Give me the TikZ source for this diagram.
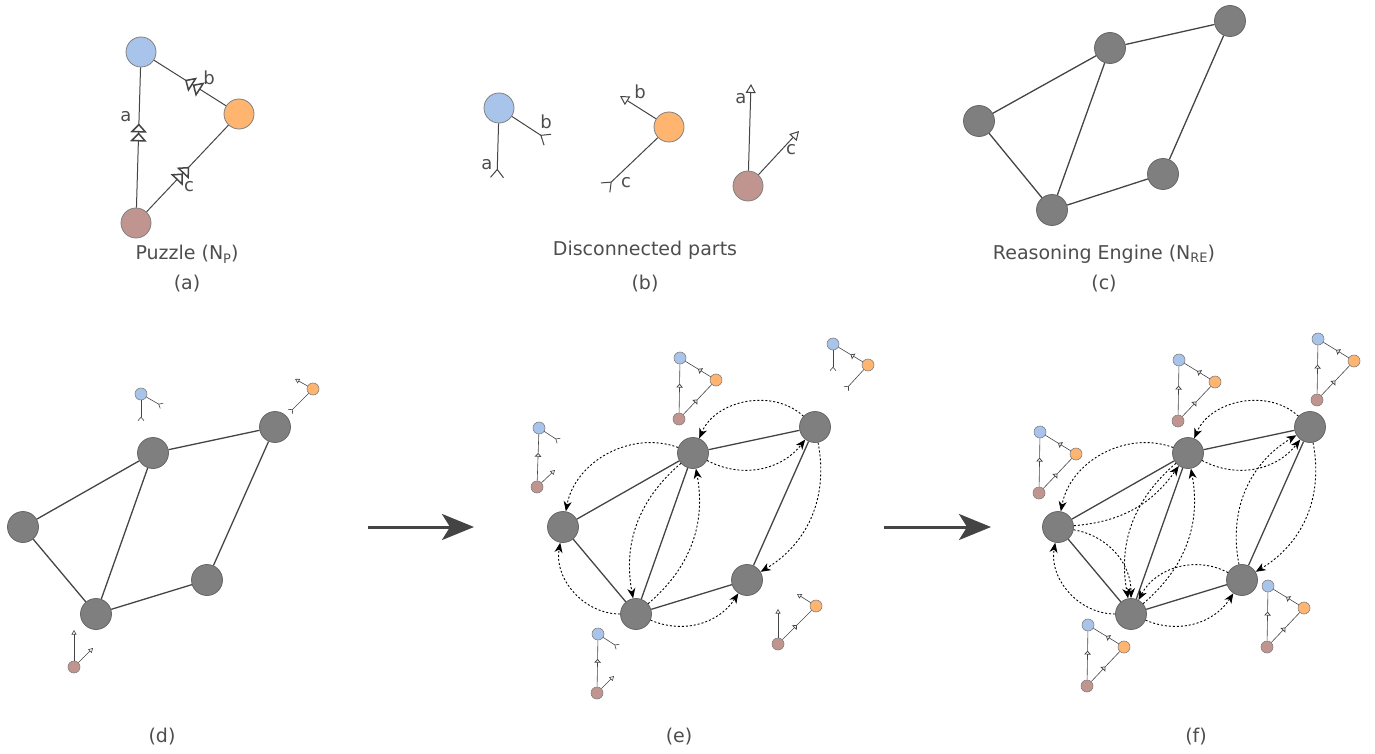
\documentclass[tikz,border=0pt]{standalone}
\usepackage{fontspec}
\setmainfont{DejaVu Sans}
\usetikzlibrary{arrows.meta,decorations.markings}

\definecolor{pblue}{HTML}{A9C4EB}
\definecolor{porange}{HTML}{FFB570}
\definecolor{pbrown}{HTML}{C0958F}
\definecolor{ngray}{HTML}{7F7F7F}
\definecolor{nborder}{HTML}{666666}
\definecolor{ink}{HTML}{444444}
\definecolor{txt}{HTML}{4D4D4D}

\newcommand\lowsub[1]{\raisebox{-0.35ex}{\fontsize{13}{13}\selectfont #1}}

\tikzset{
  x=1pt,y=1pt,
  dtri/.tip={Triangle[open,fill=white,length=6pt,width=11pt] Triangle[open,fill=white,length=6pt,width=11pt]},
  sdtri/.tip={Triangle[open,fill=white,length=3.2pt,width=5.5pt]},
  fork/.tip={Straight Barb[reversed,length=8pt,width=13pt]},
  sfork/.tip={Straight Barb[reversed,length=3.5pt,width=6pt]},
  otri/.tip={Triangle[open,fill=white,length=9pt,width=10pt]},
  sotri/.tip={Triangle[open,fill=white,length=4.5pt,width=5pt]},
  bignode/.style={circle,draw=nborder,fill=ngray,line width=0.8pt,minimum size=31pt,inner sep=0pt},
  bigp/.style={circle,draw=black!50,fill=#1,line width=0.8pt,minimum size=30pt,inner sep=0pt},
  smallp/.style={circle,draw=black!50,fill=#1,line width=0.6pt,minimum size=12pt,inner sep=0pt},
  reline/.style={draw=ink,line width=1.3pt},
  pline/.style={draw=ink,line width=1pt},
  spline/.style={draw=ink,line width=0.6pt},
  pedge/.style={pline,postaction={decorate,decoration={markings,mark=at position #1 with {\arrow[scale=1.5]{dtri}}}}},
  pedge/.default=0.5,
  spedge/.style={spline,postaction={decorate,decoration={markings,mark=at position #1 with {\arrow[scale=1.2]{sdtri}}}}},
  spedge/.default=0.5,
  dotarr/.style={draw=black,line width=0.9pt,dash pattern=on 2pt off 2pt,-{Stealth[length=10pt,width=8pt,inset=3pt]}},
  bigarrow/.style={draw=ink,line width=3pt,-{Stealth[length=32pt,width=26pt,inset=8pt]}},
  captxt/.style={font=\fontsize{19}{23}\selectfont,text=txt,inner sep=0pt},
  labtxt/.style={font=\fontsize{18}{20}\selectfont,text=txt,inner sep=0pt},
}

% reasoning-engine graph (relative to panel d)
\newcommand\regraph[1]{%
  \node[bignode] (#1A) at (153,-453) {};
  \node[bignode] (#1B) at (275,-427) {};
  \node[bignode] (#1C) at (23,-527) {};
  \node[bignode] (#1D) at (207,-580) {};
  \node[bignode] (#1E) at (96,-614) {};
  \draw[reline] (#1A) -- (#1B);
  \draw[reline] (#1A) -- (#1C);
  \draw[reline] (#1A) -- (#1E);
  \draw[reline] (#1C) -- (#1E);
  \draw[reline] (#1E) -- (#1D);
  \draw[reline] (#1D) -- (#1B);
}

% small full puzzle, blue circle at (#2,#3)
\newcommand\fullpz[3]{%
  \node[smallp=pblue] (#1b) at (#2,#3) {};
  \node[smallp=porange] (#1o) at (#2+36,#3-22) {};
  \node[smallp=pbrown] (#1r) at (#2-1,#3-61) {};
  \draw[spedge=0.6] (#1r) -- (#1b);
  \draw[spedge] (#1o) -- (#1b);
  \draw[spedge] (#1r) -- (#1o);
}

\begin{document}
\begin{tikzpicture}
\useasboundingbox (0,0) rectangle (1375,-754);

% ---------- (a) ----------
\node[bigp=pblue] (aB) at (141,-52) {};
\node[bigp=porange] (aO) at (239,-114) {};
\node[bigp=pbrown] (aR) at (136,-223) {};
\draw[pedge=0.6] (aR) -- (aB);
\draw[pedge=0.57] (aO) -- (aB);
\draw[pedge=0.52] (aR) -- (aO);
\node[labtxt] (la) at (126,-117) {a};
\node[labtxt] (lb) at (209,-78) {b};
\node[labtxt] (lc) at (189,-187) {c};
\node[captxt] (capa) at (187,-254) {Puzzle (N\lowsub{P})};
\node[captxt] (capa2) at (187,-284) {(a)};

% ---------- (b) ----------
\node[bigp=pblue] (bB) at (499,-108) {};
\coordinate (bBa) at (497,-178);
\coordinate (bBb) at (548,-140);
\draw[pline,-fork] (bB) -- (bBa);
\draw[pline,-fork] (bB) -- (bBb);
\node[labtxt] (lba) at (487,-165) {a};
\node[labtxt] (lbb) at (546,-122) {b};

\node[bigp=porange] (bO) at (669,-127) {};
\coordinate (bOb) at (620,-96);
\coordinate (bOc) at (605,-188);
\draw[pline,-otri] (bO) -- (bOb);
\draw[pline,-fork] (bO) -- (bOc);
\node[labtxt] (lbb2) at (640,-92) {b};
\node[labtxt] (lbc) at (626,-183) {c};

\node[bigp=pbrown] (bR) at (748,-186) {};
\coordinate (bRa) at (751,-84);
\coordinate (bRc) at (799,-131);
\draw[pline,-otri] (bR) -- (bRa);
\draw[pline,-otri] (bR) -- (bRc);
\node[labtxt] (lba2) at (741,-99) {a};
\node[labtxt] (lbc2) at (791,-150) {c};
\node[captxt] (capb) at (645,-250) {Disconnected parts};
\node[captxt] (capb2) at (645,-284) {(b)};

% ---------- (c) ----------
\node[bignode] (c1) at (1110,-48) {};
\node[bignode] (c2) at (1230,-21) {};
\node[bignode] (c3) at (979,-121) {};
\node[bignode] (c4) at (1163,-174) {};
\node[bignode] (c5) at (1052,-210) {};
\draw[reline] (c1) -- (c2);
\draw[reline] (c1) -- (c3);
\draw[reline] (c1) -- (c5);
\draw[reline] (c3) -- (c5);
\draw[reline] (c5) -- (c4);
\draw[reline] (c4) -- (c2);
\node[captxt] (capc) at (1104,-254) {Reasoning Engine (N\lowsub{RE})};
\node[captxt] (capc2) at (1104,-284) {(c)};

% ---------- (d) ----------
\regraph{d}
\node[smallp=pblue] (dpB) at (141,-394) {};
\coordinate (dpBa) at (141,-421);
\coordinate (dpBb) at (162,-406);
\draw[spline,-sfork] (dpB) -- (dpBa);
\draw[spline,-sfork] (dpB) -- (dpBb);
\node[smallp=porange] (dpO) at (313,-389) {};
\coordinate (dpOb) at (295,-379);
\coordinate (dpOc) at (290,-412);
\draw[spline,-sotri] (dpO) -- (dpOb);
\draw[spline,-sfork] (dpO) -- (dpOc);
\node[smallp=pbrown] (dpR) at (74,-667) {};
\coordinate (dpRa) at (74,-630);
\coordinate (dpRc) at (93,-648);
\draw[spline,-sotri] (dpR) -- (dpRa);
\draw[spline,-sotri] (dpR) -- (dpRc);
\node[captxt] (capd) at (162,-737) {(d)};

\coordinate (ar1s) at (368,-527);
\coordinate (ar1e) at (474,-527);
\draw[bigarrow] (ar1s) -- (ar1e);

% ---------- (e) ----------
\begin{scope}[xshift=540pt]
\regraph{e}
\end{scope}
\draw[dotarr] (eB) to[bend right=55] (eA);
\draw[dotarr] (eA) to[bend right=40] (eB);
\draw[dotarr] (eA) to[bend right=50] (eC);
\draw[dotarr] (eE) to[bend left=50] (eC);
\draw[dotarr] (eA) to[bend right=30] (eE);
\draw[dotarr] (eE) to[bend right=30] (eA);
\draw[dotarr] (eB) to[bend left=35] (eD);
\draw[dotarr] (eE) to[bend right=40] (eD);

\fullpz{ep1}{680}{-358}
% blue + brown (left)
\node[smallp=pblue] (ep2b) at (539,-428) {};
\node[smallp=pbrown] (ep2r) at (537,-487) {};
\coordinate (ep2bb) at (559,-441);
\coordinate (ep2rc) at (555,-470);
\draw[spedge=0.6] (ep2r) -- (ep2b);
\draw[spline,-sfork] (ep2b) -- (ep2bb);
\draw[spline,-sotri] (ep2r) -- (ep2rc);
% blue + orange (top right)
\node[smallp=pblue] (ep3b) at (833,-344) {};
\node[smallp=porange] (ep3o) at (868,-365) {};
\coordinate (ep3ba) at (833,-371);
\coordinate (ep3oc) at (846,-389);
\draw[spedge] (ep3o) -- (ep3b);
\draw[spline,-sfork] (ep3b) -- (ep3ba);
\draw[spline,-sfork] (ep3o) -- (ep3oc);
% blue + brown (bottom)
\node[smallp=pblue] (ep4b) at (598,-634) {};
\node[smallp=pbrown] (ep4r) at (597,-693) {};
\coordinate (ep4bb) at (618,-647);
\coordinate (ep4rc) at (614,-676);
\draw[spedge=0.6] (ep4r) -- (ep4b);
\draw[spline,-sfork] (ep4b) -- (ep4bb);
\draw[spline,-sotri] (ep4r) -- (ep4rc);
% orange + brown (bottom right)
\node[smallp=porange] (ep5o) at (816,-606) {};
\node[smallp=pbrown] (ep5r) at (778,-644) {};
\coordinate (ep5ob) at (797,-594);
\coordinate (ep5ra) at (778,-609);
\draw[spedge] (ep5r) -- (ep5o);
\draw[spline,-sotri] (ep5o) -- (ep5ob);
\draw[spline,-sotri] (ep5r) -- (ep5ra);
\node[captxt] (cape) at (679,-737) {(e)};

\coordinate (ar2s) at (884,-527);
\coordinate (ar2e) at (991,-527);
\draw[bigarrow] (ar2s) -- (ar2e);

% ---------- (f) ----------
\begin{scope}[xshift=1035pt]
\regraph{f}
\end{scope}
\draw[dotarr] (fB) to[bend right=55] (fA);
\draw[dotarr] (fA) to[bend right=40] (fB);
\draw[dotarr] (fD) to[bend left=35] (fB);
\draw[dotarr] (fB) to[bend left=35] (fD);
\draw[dotarr] (fA) to[bend right=50] (fC);
\draw[dotarr] (fC) to[bend right=25] (fA);
\draw[dotarr] (fE) to[bend left=50] (fC);
\draw[dotarr] (fC) to[bend left=40] (fE);
\draw[dotarr] (fA) to[bend right=30] (fE);
\draw[dotarr] (fE) to[bend right=30] (fA);
\draw[dotarr] (fD) to[bend right=45] (fE);
\draw[dotarr] (fE) to[bend right=40] (fD);

\fullpz{fp1}{1179}{-360}
\fullpz{fp2}{1318}{-339}
\fullpz{fp3}{1040}{-432}
\fullpz{fp4}{1268}{-586}
\fullpz{fp5}{1088}{-625}
\node[captxt] (capf) at (1196,-737) {(f)};
\end{tikzpicture}
\end{document}
